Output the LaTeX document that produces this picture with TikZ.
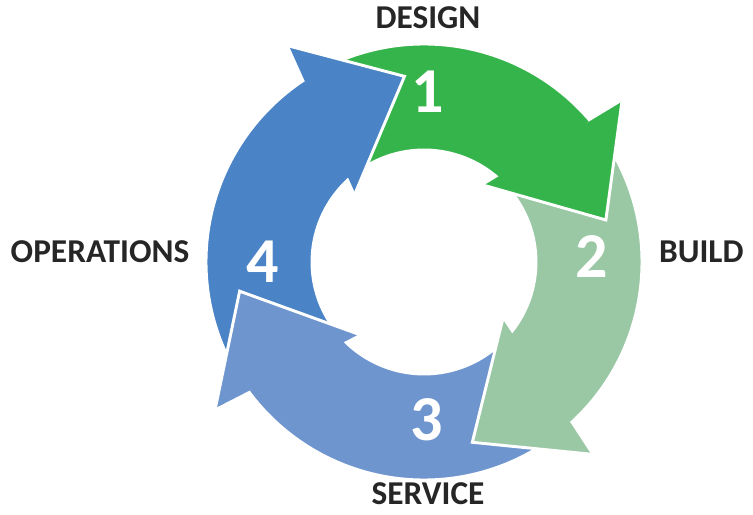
\documentclass[tikz,border=0pt]{standalone}
\usepackage{fontspec}
\setmainfont{Carlito}
\definecolor{designgreen}{RGB}{53,180,75}
\definecolor{buildgreen}{RGB}{154,200,165}
\definecolor{serviceblue}{RGB}{111,149,207}
\definecolor{opsblue}{RGB}{74,131,198}
\tikzset{
  segment/.style={draw=white,line width=2.2pt,line join=miter},
  stepnum/.style={text=white,font=\bfseries\fontsize{48}{48}\selectfont},
  phase/.style={text=black!85,font=\bfseries\fontsize{25}{25}\selectfont}
}
\begin{document}
\begin{tikzpicture}
\useasboundingbox (0,0) rectangle (564.75pt,385.5pt);
\begin{scope}[shift={(318pt,189pt)}]
% bodies: start angle / end angle / colour
\foreach \a/\b/\c in {123/40/designgreen,40/-48/buildgreen,-48/-144/serviceblue,-144/-237/opsblue}
  \draw[segment,fill=\c] (\a:163.5pt) arc[start angle=\a,end angle=\b,radius=163.5pt]
    -- (\b:84pt) arc[start angle=\b,end angle=\a,radius=84pt] -- cycle;
% heads
\foreach \b/\c in {45/designgreen,-43/buildgreen,-139/serviceblue,128/opsblue}{
  \fill[\c] (\b-6:191pt) -- (\b-32:140pt) -- (\b+7:73pt) -- cycle;
  \draw[segment] (\b-6:191pt) -- (\b-32:140pt) -- (\b+7:73pt);
}
\node[stepnum] (n1) at (3pt,128pt) {1};
\node[stepnum] (n2) at (126pt,4pt) {2};
\node[stepnum] (n3) at (2pt,-118pt) {3};
\node[stepnum] (n4) at (-121pt,0pt) {4};
\end{scope}
\node[phase] (design) at (321pt,372pt) {DESIGN};
\node[phase] (build) at (526pt,197pt) {BUILD};
\node[phase] (service) at (321pt,15pt) {SERVICE};
\node[phase] (operations) at (75pt,197pt) {OPERATIONS};
\end{tikzpicture}
\end{document}
